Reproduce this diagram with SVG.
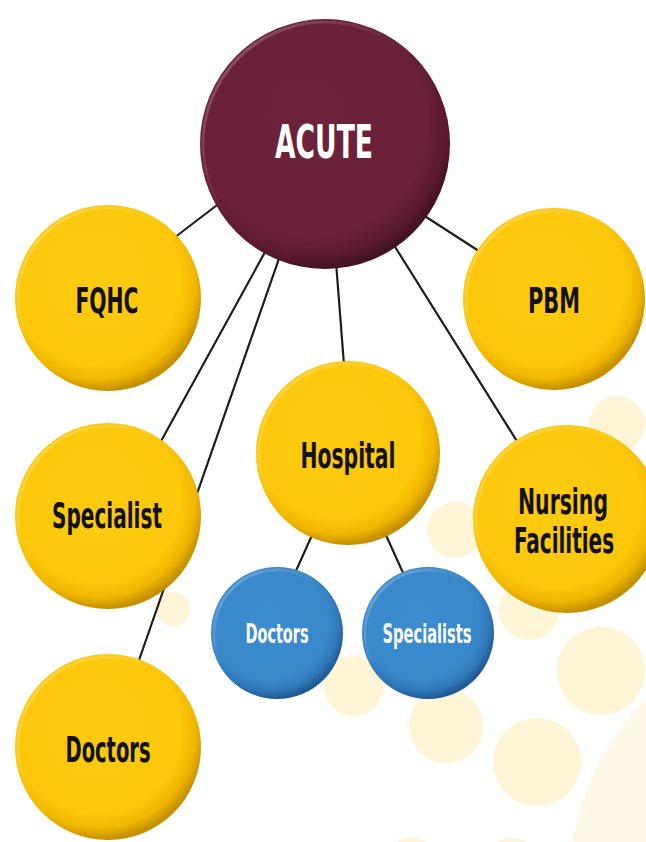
<svg xmlns="http://www.w3.org/2000/svg" width="646" height="842" viewBox="0 0 646 842">
  <style>
    .bg { fill: #fef4d6; }
    .bg2 { fill: #fef8e6; }
    .conn { stroke: #1e1e1e; stroke-width: 2.2; fill: none; stroke-linecap: round; }
    .yel { fill: url(#gYel); }
    .mar { fill: url(#gMar); }
    .blu { fill: url(#gBlu); }
    .rim { fill: none; stroke: url(#gRim); stroke-width: 3; }
    .lbl { font-family: "DejaVu Sans Condensed", "Liberation Sans", sans-serif; font-stretch: condensed; font-weight: bold; text-anchor: middle; }
    .dark { fill: #111111; font-size: 36px; }
    .light { fill: #ffffff; }
  </style>
  <defs>
    <radialGradient id="gYel" cx="0.45" cy="0.42" r="0.58" fx="0.42" fy="0.38">
      <stop offset="0" stop-color="#fdcb10"/>
      <stop offset="0.78" stop-color="#fcc70b"/>
      <stop offset="0.9" stop-color="#f0b700"/>
      <stop offset="1" stop-color="#c48f00"/>
    </radialGradient>
    <radialGradient id="gMar" cx="0.45" cy="0.42" r="0.58" fx="0.42" fy="0.38">
      <stop offset="0" stop-color="#6d223b"/>
      <stop offset="0.8" stop-color="#6a2039"/>
      <stop offset="0.92" stop-color="#5c1a30"/>
      <stop offset="1" stop-color="#431222"/>
    </radialGradient>
    <radialGradient id="gBlu" cx="0.45" cy="0.42" r="0.58" fx="0.42" fy="0.38">
      <stop offset="0" stop-color="#3b8dcf"/>
      <stop offset="0.78" stop-color="#3888ca"/>
      <stop offset="0.9" stop-color="#2f78b8"/>
      <stop offset="1" stop-color="#205a94"/>
    </radialGradient>
    <linearGradient id="gRim" x1="0" y1="0" x2="1" y2="1">
      <stop offset="0" stop-color="#ffffff" stop-opacity="0.3"/>
      <stop offset="0.45" stop-color="#ffffff" stop-opacity="0"/>
      <stop offset="1" stop-color="#000000" stop-opacity="0"/>
    </linearGradient>
  </defs>

  <rect x="0" y="0" width="646" height="842" fill="#ffffff"/>

  <g id="background">
    <circle class="bg2" cx="821" cy="880" r="251"/>
    <circle class="bg" cx="617" cy="424" r="28"/>
    <circle class="bg" cx="455" cy="530" r="28"/>
    <circle class="bg" cx="529" cy="610" r="30"/>
    <circle class="bg" cx="601" cy="671" r="44"/>
    <circle class="bg" cx="537" cy="762" r="44"/>
    <circle class="bg" cx="446" cy="726" r="37"/>
    <circle class="bg" cx="354" cy="686" r="30"/>
    <circle class="bg" cx="173" cy="609" r="17"/>
    <circle class="bg" cx="412" cy="870" r="32"/>
    <circle class="bg" cx="512" cy="872" r="34"/>
  </g>

  <g id="connectors">
    <line class="conn" x1="225" y1="199" x2="170" y2="241"/>
    <line class="conn" x1="270" y1="243" x2="160" y2="443"/>
    <line class="conn" x1="282" y1="250" x2="138" y2="663"/>
    <line class="conn" x1="336" y1="262" x2="344" y2="365"/>
    <line class="conn" x1="420" y1="213" x2="485" y2="255"/>
    <line class="conn" x1="392" y1="242" x2="520" y2="446"/>
    <line class="conn" x1="313" y1="533" x2="295" y2="573"/>
    <line class="conn" x1="385" y1="533" x2="404" y2="575"/>
  </g>

  <g id="acute">
    <circle class="mar" cx="325" cy="144" r="125"/>
    <circle class="rim" cx="325" cy="144" r="122"/>
    <text class="lbl light" x="324" y="158" font-size="46" textLength="98" lengthAdjust="spacingAndGlyphs">ACUTE</text>
  </g>

  <g id="fqhc">
    <circle class="yel" cx="108" cy="298" r="93"/>
    <circle class="rim" cx="108" cy="298" r="90"/>
    <text class="lbl dark" x="107" y="313" textLength="63" lengthAdjust="spacingAndGlyphs">FQHC</text>
  </g>

  <g id="pbm">
    <circle class="yel" cx="554" cy="299" r="91"/>
    <circle class="rim" cx="554" cy="299" r="88"/>
    <text class="lbl dark" x="554" y="313" textLength="52" lengthAdjust="spacingAndGlyphs">PBM</text>
  </g>

  <g id="hospital">
    <circle class="yel" cx="348" cy="453" r="92"/>
    <circle class="rim" cx="348" cy="453" r="89"/>
    <text class="lbl dark" x="348" y="468" textLength="95" lengthAdjust="spacingAndGlyphs">Hospital</text>
  </g>

  <g id="specialist">
    <circle class="yel" cx="108" cy="516" r="93"/>
    <circle class="rim" cx="108" cy="516" r="90"/>
    <text class="lbl dark" x="107" y="528" font-size="35" textLength="110" lengthAdjust="spacingAndGlyphs">Specialist</text>
  </g>

  <g id="nursing-facilities">
    <circle class="yel" cx="567" cy="519" r="94"/>
    <circle class="rim" cx="567" cy="519" r="91"/>
    <text class="lbl dark" transform="translate(563 514) scale(0.7 1)" x="0" y="0" font-size="35" textLength="128.6" lengthAdjust="spacingAndGlyphs">Nursing</text>
    <text class="lbl dark" transform="translate(564 553) scale(0.7 1)" x="0" y="0" font-size="35" textLength="142.9" lengthAdjust="spacingAndGlyphs">Facilities</text>
  </g>

  <g id="hospital-doctors">
    <circle class="blu" cx="277" cy="633" r="66"/>
    <circle class="rim" cx="277" cy="633" r="63"/>
    <text class="lbl light" x="277" y="643" font-size="27" font-weight="normal" textLength="63" lengthAdjust="spacingAndGlyphs">Doctors</text>
  </g>

  <g id="hospital-specialists">
    <circle class="blu" cx="428" cy="633" r="66"/>
    <circle class="rim" cx="428" cy="633" r="63"/>
    <text class="lbl light" x="427" y="643" font-size="27" font-weight="normal" textLength="89" lengthAdjust="spacingAndGlyphs">Specialists</text>
  </g>

  <g id="doctors">
    <circle class="yel" cx="108" cy="747" r="93"/>
    <circle class="rim" cx="108" cy="747" r="90"/>
    <text class="lbl dark" x="108" y="762" textLength="85" lengthAdjust="spacingAndGlyphs">Doctors</text>
  </g>
</svg>
